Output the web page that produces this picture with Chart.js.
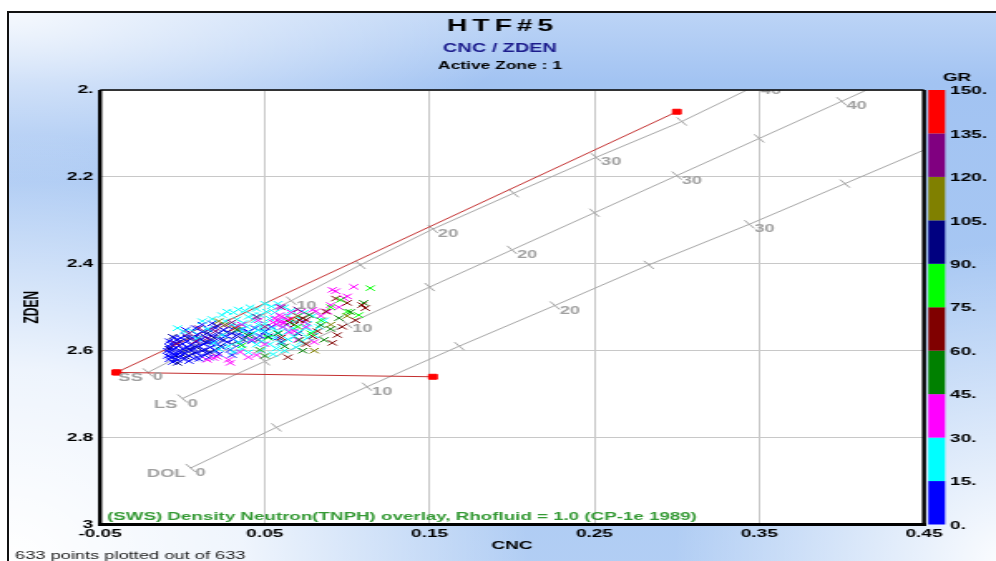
<!DOCTYPE html>
<html>
<head>
<meta charset="utf-8">
<title>HTF#5 - CNC / ZDEN</title>
<script src="https://cdn.jsdelivr.net/npm/chart.js@4.4.1/dist/chart.umd.min.js"></script>
<style>
  html, body { margin: 0; padding: 0; width: 996px; height: 561px; overflow: hidden; background: #fff; }
  #panel {
    position: absolute; left: 7px; top: 11px; width: 1000px; height: 560px;
    border-top: 2px solid #111; border-left: 2px solid #111;
    background:
      radial-gradient(ellipse 520px 430px at 0px 550px, rgba(255,255,255,1) 0%, rgba(255,255,255,0.8) 45%, rgba(255,255,255,0) 100%),
      radial-gradient(ellipse 330px 320px at 995px 550px, rgba(255,255,255,0.95) 0%, rgba(255,255,255,0) 100%),
      radial-gradient(ellipse 520px 170px at 0px 0px, rgba(255,255,255,0.85) 0%, rgba(255,255,255,0) 100%),
      linear-gradient(180deg, #bcd4f6 0px, #a2c3f2 70px, #a8c8f3 300px, #b2cef4 560px);
  }
  /* the chart is laid out on a 600px stage that is stretched to the full page width */
  #stage { position: absolute; left: 0; top: 0; width: 600px; height: 561px; transform: scaleX(1.66); transform-origin: 0 0; }
</style>
</head>
<body>
<div id="panel"></div>
<div id="stage"><canvas id="chart"></canvas></div>
<script>
// ---- axes ----
const cncTicks = [-0.05, 0.05, 0.15, 0.25, 0.35, 0.45];
const cncTickLabels = ['-0.05', '0.05', '0.15', '0.25', '0.35', '0.45'];
const zdenTicks = [2.0, 2.2, 2.4, 2.6, 2.8, 3.0];
const zdenTickLabels = ['2.', '2.2', '2.4', '2.6', '2.8', '3'];

// ---- GR colour scale ----
const grTicks = [0, 15, 30, 45, 60, 75, 90, 105, 120, 135, 150];
const grTickLabels = ['0.', '15.', '30.', '45.', '60.', '75.', '90.', '105.', '120.', '135.', '150.'];
const grColors = ['#0000ff', '#00ffff', '#ff00ff', '#008000', '#800000', '#00ff00', '#000080', '#808000', '#800080', '#ff0000'];

// ---- CP-1e (TNPH, fresh water) lithology lines, one vertex every 5 p.u. ----
const porosityPU = [0, 5, 10, 15, 20, 25, 30, 35, 40, 45];
const labeledPU = [0, 10, 20, 30, 40];
const ssCnc  = [-0.021, 0.022, 0.066, 0.108, 0.152, 0.201, 0.251, 0.303, 0.348, 0.400];
const ssZden = [2.650, 2.5675, 2.485, 2.4025, 2.320, 2.2375, 2.155, 2.0725, 1.990, 1.9075];
const lsCnc  = [0.000, 0.050, 0.100, 0.150, 0.200, 0.250, 0.300, 0.350, 0.400, 0.450];
const lsZden = [2.710, 2.6245, 2.539, 2.4535, 2.368, 2.2825, 2.197, 2.1115, 2.026, 1.9405];
const dolCnc  = [0.005, 0.057, 0.112, 0.168, 0.226, 0.283, 0.344, 0.402, 0.460, 0.520];
const dolZden = [2.870, 2.7765, 2.683, 2.5895, 2.496, 2.4025, 2.309, 2.2155, 2.122, 2.0285];

// ---- red end-point lines ----
const endpointCnc  = [-0.040, 0.300, 0.152];
const endpointZden = [2.650, 2.050, 2.660];

// ---- samples [CNC, ZDEN] grouped by GR band ----
const gr0to15 = [[-0.009,2.600],[-0.009,2.612],[-0.008,2.591],[-0.008,2.620],[-0.008,2.604],[-0.007,2.585],[-0.007,2.614],[-0.006,2.597],[-0.006,2.626],[-0.005,2.607],[-0.004,2.582],[-0.004,2.618],[-0.004,2.594],[-0.003,2.608],[-0.003,2.574],[-0.003,2.622],[-0.002,2.588],[-0.002,2.602],[-0.001,2.612],[-0.001,2.571],[0.000,2.596],[0.000,2.584],[0.001,2.606],[0.001,2.620],[0.002,2.565],[0.003,2.592],[0.003,2.578],[0.004,2.612],[0.005,2.600],[0.005,2.586],[0.006,2.570],[0.007,2.595],[0.007,2.618],[0.008,2.580],[0.009,2.604],[0.009,2.563],[0.010,2.590],[0.011,2.575],[0.011,2.612],[0.012,2.556],[0.013,2.585],[0.013,2.598],[0.014,2.568],[0.015,2.606],[0.016,2.580],[0.016,2.552],[0.017,2.592],[0.018,2.565],[0.019,2.578],[0.020,2.600],[0.020,2.548],[0.021,2.586],[0.022,2.560],[0.023,2.574],[0.024,2.592],[0.025,2.552],[0.026,2.566],[0.027,2.580],[0.028,2.545],[0.029,2.598],[0.030,2.560],[0.031,2.574],[0.032,2.545],[0.034,2.562],[0.035,2.585],[0.036,2.550],[0.038,2.568],[0.040,2.556],[0.042,2.578],[0.044,2.548],[0.047,2.566],[0.050,2.556],[0.054,2.545],[0.058,2.570],[0.004,2.624],[0.010,2.619],[0.016,2.616],[0.022,2.608],[0.030,2.610],[-0.005,2.570],[0.002,2.552],[0.008,2.548],[-0.008,2.578],[0.012,2.540],[0.018,2.537]];
const gr15to30 = [[-0.003,2.548],[0.001,2.556],[0.006,2.555],[0.012,2.532],[0.018,2.527],[0.024,2.518],[0.027,2.510],[0.031,2.512],[0.034,2.505],[0.038,2.508],[0.041,2.500],[0.045,2.504],[0.050,2.492],[0.054,2.498],[0.058,2.492],[0.062,2.500],[0.066,2.508],[0.070,2.520],[0.026,2.532],[0.030,2.540],[0.033,2.528],[0.037,2.536],[0.040,2.522],[0.044,2.530],[0.047,2.518],[0.050,2.538],[0.053,2.526],[0.056,2.512],[0.060,2.530],[0.064,2.520],[0.068,2.534],[0.072,2.528],[0.076,2.538],[0.035,2.552],[0.039,2.545],[0.043,2.560],[0.046,2.540],[0.049,2.552],[0.052,2.562],[0.055,2.548],[0.058,2.558],[0.061,2.546],[0.064,2.556],[0.067,2.548],[0.071,2.556],[0.075,2.548],[0.079,2.556],[0.041,2.575],[0.045,2.586],[0.048,2.578],[0.053,2.585],[0.057,2.595],[0.060,2.584],[0.064,2.574],[0.068,2.568],[0.072,2.580],[0.076,2.570],[0.080,2.565],[0.031,2.603],[0.036,2.596],[0.040,2.604],[0.048,2.600],[0.055,2.608],[0.062,2.600],[0.069,2.592],[0.019,2.582],[0.024,2.564],[0.015,2.550],[0.009,2.572],[0.028,2.590],[0.083,2.545],[0.086,2.530],[0.079,2.520],[0.074,2.512],[0.051,2.510],[0.043,2.518],[0.022,2.596],[0.034,2.580],[0.063,2.540],[0.056,2.570],[0.046,2.552],[0.038,2.560]];
const gr30to45 = [[0.059,2.499],[0.064,2.529],[0.079,2.506],[0.091,2.460],[0.104,2.453],[0.090,2.495],[0.019,2.617],[0.035,2.603],[0.047,2.598],[0.093,2.463],[0.098,2.479],[0.088,2.510],[0.081,2.509],[0.074,2.534],[0.065,2.557],[0.059,2.534],[0.056,2.525],[0.058,2.530],[0.060,2.522],[0.062,2.535],[0.057,2.540],[0.061,2.545],[0.064,2.528],[0.059,2.518],[0.055,2.535],[0.063,2.540],[0.021,2.614],[0.028,2.621],[0.045,2.610],[0.015,2.621],[0.029,2.628],[0.042,2.575],[0.050,2.585],[0.070,2.575],[0.080,2.580],[0.068,2.555],[0.084,2.520],[0.095,2.500],[0.100,2.475],[0.036,2.540],[0.046,2.530],[0.072,2.510],[0.075,2.545],[0.066,2.512],[0.040,2.615]];
const gr45to60 = [[0.071,2.575],[0.084,2.541],[0.102,2.511],[0.077,2.518],[0.033,2.552],[0.050,2.612],[0.062,2.590],[0.090,2.550],[0.095,2.525],[0.058,2.560],[0.040,2.565],[0.073,2.600],[0.086,2.575],[0.110,2.490],[0.065,2.535]];
const gr60to75 = [[0.079,2.567],[0.094,2.564],[0.091,2.582],[0.064,2.615],[0.100,2.490],[0.111,2.502],[0.073,2.525],[0.068,2.540],[0.082,2.555],[0.105,2.530],[0.087,2.510],[0.075,2.585],[0.060,2.570],[0.097,2.545],[0.093,2.480],[0.075,2.529],[0.109,2.495],[0.071,2.530]];
const gr75to90 = [[0.114,2.456],[0.107,2.518],[0.096,2.483],[0.084,2.530],[0.047,2.598],[0.052,2.570],[0.070,2.545],[0.100,2.510],[0.078,2.560],[0.090,2.500],[0.036,2.588]];
const gr90to105 = [[-0.006,2.568],[-0.008,2.596],[-0.004,2.612],[-0.002,2.580],[0.000,2.602],[0.003,2.570],[0.004,2.596],[0.006,2.608],[0.008,2.590],[0.010,2.570],[0.012,2.600],[0.014,2.580],[0.015,2.560],[0.017,2.604],[0.019,2.570],[0.021,2.543],[0.023,2.590],[0.025,2.575],[0.027,2.558],[0.030,2.585],[0.033,2.565],[0.037,2.575],[0.041,2.562],[0.046,2.575],[0.052,2.567],[-0.003,2.628],[0.002,2.614],[0.060,2.580],[0.070,2.560]];
const gr105to120 = [[0.026,2.540],[0.070,2.520],[0.090,2.540],[0.080,2.600],[0.100,2.520],[0.022,2.532]];
const gr120to135 = [[0.010,2.548],[0.020,2.555],[0.030,2.535],[0.060,2.500],[0.045,2.522],[0.015,2.572],[0.050,2.545],[0.008,2.578],[-0.004,2.584],[0.025,2.542],[0.070,2.505],[0.004,2.560]];
const gr135to150 = [[0.066,2.527],[0.032,2.548]];

// ---- stage geometry (page pixels -> stage units) ----
const STRETCH = 1.66;
const stage = v => v / STRETCH;

const bands = [gr0to15, gr15to30, gr30to45, gr45to60, gr60to75, gr75to90, gr90to105, gr105to120, gr120to135, gr135to150];
// higher value = drawn further underneath
const bandOrder = [9, 8, 7, 3, 2, 1, 10, 4, 6, 5];

const toPoints = pairs => pairs.map(p => ({ x: p[0], y: p[1] }));
const zipPoints = (xs, ys) => xs.map((x, i) => ({ x, y: ys[i] }));

const datasets = [];
bands.forEach((pairs, i) => {
  datasets.push({
    label: 'GR ' + grTicks[i] + '-' + grTicks[i + 1],
    data: toPoints(pairs),
    order: bandOrder[i],
    pointStyle: 'crossRot',
    pointRadius: 3.8,
    pointBorderWidth: 1,
    pointBorderColor: grColors[i],
    pointBackgroundColor: grColors[i],
    showLine: false
  });
});

const lithoLine = (xs, ys) => ({
  data: zipPoints(xs, ys),
  order: 100,
  showLine: true,
  borderColor: '#a6a6a6',
  borderWidth: 1,
  pointStyle: 'line',
  pointRotation: 54,
  pointRadius: 5,
  pointBorderWidth: 1,
  pointBorderColor: '#a6a6a6'
});
datasets.push(lithoLine(ssCnc, ssZden), lithoLine(lsCnc, lsZden), lithoLine(dolCnc, dolZden));

const endpointLine = (a, b) => ({
  data: [{ x: endpointCnc[a], y: endpointZden[a] }, { x: endpointCnc[b], y: endpointZden[b] }],
  order: 90,
  showLine: true,
  borderColor: '#c43030',
  borderWidth: 1,
  pointStyle: 'rect',
  pointRadius: 3.5,
  pointBorderWidth: 1,
  pointBorderColor: '#ff0000',
  pointBackgroundColor: '#ff0000'
});
datasets.push(endpointLine(0, 1), endpointLine(0, 2));

const lithoSets = [
  { name: 'SS', xs: ssCnc, ys: ssZden },
  { name: 'LS', xs: lsCnc, ys: lsZden },
  { name: 'DOL', xs: dolCnc, ys: dolZden }
];

const FONT = "'Liberation Sans', Arial, sans-serif";

const decorations = {
  id: 'decorations',
  beforeDraw(c) {
    const { ctx, chartArea: a } = c;
    ctx.save();
    ctx.fillStyle = '#ffffff';
    ctx.fillRect(a.left, a.top, a.right - a.left, a.bottom - a.top);
    ctx.restore();
  },
  afterDatasetsDraw(c) {
    const { ctx, chartArea: a, scales } = c;
    const xs = scales.x, ys = scales.y, gr = scales.gr;

    // porosity and lithology labels along the overlay lines
    ctx.save();
    ctx.beginPath();
    ctx.rect(a.left, a.top, a.right - a.left, a.bottom - a.top);
    ctx.clip();
    ctx.font = 'bold 11px ' + FONT;
    ctx.fillStyle = '#a0a0a0';
    ctx.textBaseline = 'middle';
    lithoSets.forEach(set => {
      labeledPU.forEach(pu => {
        const i = porosityPU.indexOf(pu);
        const px = xs.getPixelForValue(set.xs[i]);
        const py = ys.getPixelForValue(set.ys[i]);
        ctx.textAlign = 'left';
        ctx.fillText(String(pu), px + 3, py + 5);
        if (pu === 0) {
          ctx.textAlign = 'right';
          ctx.fillText(set.name, px - 3, py + 6);
        }
      });
    });
    ctx.textAlign = 'left';
    ctx.fillStyle = '#339933';
    ctx.font = 'bold 11.3px ' + FONT;
    ctx.fillText('(SWS) Density Neutron(TNPH) overlay, Rhofluid = 1.0 (CP-1e 1989)', stage(107), 516.5);
    ctx.restore();

    // plot frame
    ctx.save();
    ctx.strokeStyle = '#000';
    ctx.lineWidth = 1.5;
    ctx.beginPath(); ctx.moveTo(a.left, a.top); ctx.lineTo(a.right, a.top); ctx.stroke();
    ctx.lineWidth = 3;
    ctx.beginPath(); ctx.moveTo(a.left - 1.2, a.bottom); ctx.lineTo(a.right + 1.2, a.bottom); ctx.stroke();
    ctx.lineWidth = 2.4;
    ctx.beginPath(); ctx.moveTo(a.left, a.top); ctx.lineTo(a.left, a.bottom + 1.5); ctx.stroke();
    ctx.beginPath(); ctx.moveTo(a.right, a.top); ctx.lineTo(a.right, a.bottom + 1.5); ctx.stroke();
    ctx.restore();

    // GR colour bar
    ctx.save();
    const barX = a.right + 2.6, barW = 10.1;
    for (let i = 0; i < grColors.length; i++) {
      const yLow = gr.getPixelForValue(grTicks[i]);
      const yHigh = gr.getPixelForValue(grTicks[i + 1]);
      ctx.fillStyle = grColors[i];
      ctx.fillRect(barX, yHigh, barW, yLow - yHigh);
    }
    ctx.fillStyle = '#000';
    ctx.font = 'bold 11.5px ' + FONT;
    ctx.textAlign = 'center';
    ctx.textBaseline = 'middle';
    ctx.fillText('GR', stage(957), 78);
    ctx.restore();

    // header and footer
    ctx.save();
    ctx.textAlign = 'center';
    ctx.textBaseline = 'middle';
    ctx.fillStyle = '#000';
    ctx.font = 'bold 17px ' + FONT;
    if ('letterSpacing' in ctx) ctx.letterSpacing = '3px';
    ctx.fillText('HTF#5', stage(500) + 1.5, 26);
    if ('letterSpacing' in ctx) ctx.letterSpacing = '0px';
    ctx.font = 'bold 12px ' + FONT;
    ctx.fillStyle = '#1c1c8c';
    ctx.fillText('CNC / ZDEN', stage(500), 49);
    ctx.font = 'bold 10.5px ' + FONT;
    ctx.fillStyle = '#000';
    ctx.fillText('Active Zone : 1', stage(500), 66);
    ctx.textAlign = 'left';
    ctx.font = '11px ' + FONT;
    ctx.fillStyle = '#1a1a1a';
    ctx.fillText('633 points plotted out of 633', stage(15), 556);
    ctx.restore();
  }
};

Chart.defaults.font.family = FONT;
Chart.defaults.color = '#000';

const tickFont = { size: 11.5, weight: 'bold' };

new Chart(document.getElementById('chart'), {
  type: 'scatter',
  data: { datasets },
  options: {
    responsive: true,
    maintainAspectRatio: false,
    animation: false,
    devicePixelRatio: 1,
    events: [],
    layout: { padding: { top: 90, left: 0, right: 0, bottom: 0 } },
    plugins: {
      legend: { display: false },
      title: { display: false },
      tooltip: { enabled: false }
    },
    scales: {
      x: {
        type: 'linear',
        position: 'bottom',
        min: cncTicks[0],
        max: cncTicks[cncTicks.length - 1],
        afterBuildTicks: s => { s.ticks = cncTicks.map(v => ({ value: v })); },
        afterFit: s => { s.height = 36.5; },
        grid: { color: '#c8c8c8', lineWidth: 1, drawTicks: false },
        border: { display: false },
        ticks: {
          autoSkip: false, maxRotation: 0, padding: 2,
          font: tickFont, color: '#000',
          callback: (v, i) => cncTickLabels[i]
        },
        title: { display: true, text: 'CNC', color: '#000', font: { size: 11.5, weight: 'bold' }, padding: { top: 0, bottom: 8.2 } }
      },
      y: {
        type: 'linear',
        position: 'left',
        reverse: true,
        min: zdenTicks[0],
        max: zdenTicks[zdenTicks.length - 1],
        afterBuildTicks: s => { s.ticks = zdenTicks.map(v => ({ value: v })); },
        afterFit: s => { s.width = stage(100); },
        grid: { color: '#c8c8c8', lineWidth: 1, drawTicks: false },
        border: { display: false },
        ticks: {
          autoSkip: false, padding: 4,
          font: tickFont, color: '#000',
          callback: (v, i) => zdenTickLabels[i]
        },
        title: { display: true, text: 'ZDEN', color: '#000', font: { size: 12, weight: 'bold' }, padding: { top: 12, bottom: 0 } }
      },
      gr: {
        type: 'linear',
        axis: 'y',
        position: 'right',
        min: grTicks[0],
        max: grTicks[grTicks.length - 1],
        afterBuildTicks: s => { s.ticks = grTicks.map(v => ({ value: v })); },
        afterFit: s => { s.width = 600 - stage(924); },
        grid: { display: false, drawTicks: false },
        border: { display: false },
        ticks: {
          autoSkip: false, padding: stage(950 - 924), labelOffset: 1,
          font: tickFont, color: '#000',
          callback: (v, i) => grTickLabels[i]
        }
      }
    }
  },
  plugins: [decorations]
});
</script>
</body>
</html>
